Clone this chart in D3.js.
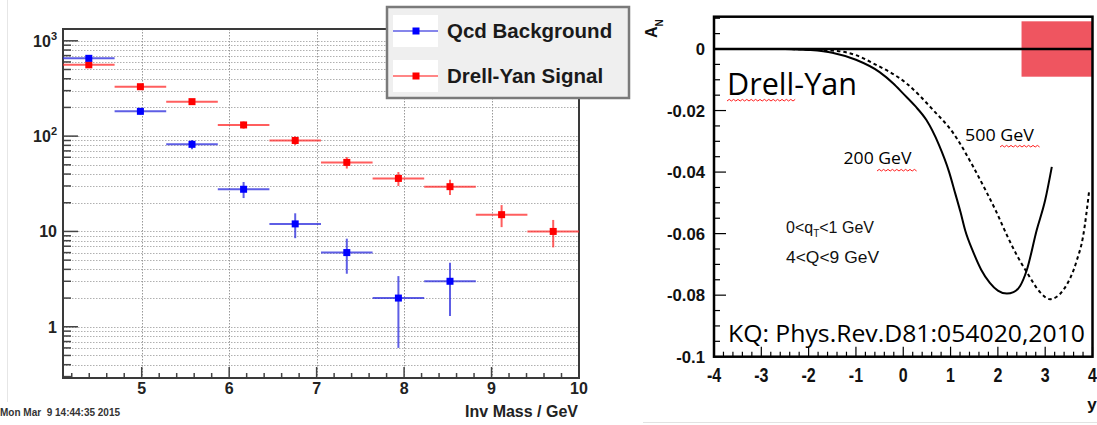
<!DOCTYPE html>
<html>
<head>
<meta charset="utf-8">
<script src="https://cdn.jsdelivr.net/npm/d3@7"></script>
<style>
  html, body { margin: 0; padding: 0; background: #fff; }
  svg { display: block; }
</style>
</head>
<body>
<svg id="chart" width="1097" height="425"></svg>
<script>
// ---------------- DATA: left panel (ROOT histogram) ----------------
const massBinCenters = [4.395, 4.985, 5.575, 6.165, 6.755, 7.345, 7.935, 8.525, 9.115, 9.705];
const massBinHalfWidth = [0.295, 0.295, 0.295, 0.295, 0.295, 0.295, 0.295, 0.295, 0.295, 0.295];
const qcdBackground = [655, 182, 82, 27.7, 12, 6, 2, 3];
const qcdErrors = [25.6, 13.5, 9.1, 5.3, 3.5, 2.4, 1.4, 1.7];
const drellYanSignal = [560, 330, 230, 131, 90, 53, 36, 29.5, 15, 10];
const drellYanErrors = [23.7, 18.2, 15.2, 11.4, 9.5, 7.3, 6.0, 5.4, 3.9, 3.2];
const massTicks = [5, 6, 7, 8, 9, 10];
const countTickValues = [1, 10, 100, 1000];
const countTickLabels = [["1", ""], ["10", ""], ["10", "2"], ["10", "3"]];
const legendLabels = ["Qcd Background", "Drell-Yan Signal"];
const timestampText = "Mon Mar  9 14:44:35 2015";
const massAxisTitle = "Inv Mass / GeV";

// ---------------- DATA: right panel (A_N vs y) ----------------
const rapidity200 = [-2.5, -2.0, -1.5, -1.0, -0.5, -0.21, 0.0, 0.25, 0.49, 0.75, 0.97, 1.1, 1.21, 1.31, 1.48, 1.65, 1.83, 2.0, 2.19, 2.33, 2.47, 2.61, 2.82, 3.0, 3.14];
const asym200 = [0, -0.0003, -0.0012, -0.0035, -0.0075, -0.0112, -0.0145, -0.0185, -0.0231, -0.0310, -0.0400, -0.0470, -0.0530, -0.0590, -0.0660, -0.0718, -0.0760, -0.0785, -0.0795, -0.0790, -0.0770, -0.0719, -0.0589, -0.0491, -0.0383];
const rapidity500 = [-2.5, -1.5, -1.0, -0.63, 0.07, 0.63, 1.06, 1.48, 1.76, 1.97, 2.19, 2.4, 2.61, 2.89, 3.1, 3.38, 3.67, 3.8, 3.93];
const asym500 = [0, -0.0005, -0.0020, -0.0047, -0.0112, -0.0198, -0.0274, -0.0383, -0.0465, -0.0530, -0.0605, -0.0670, -0.0725, -0.0790, -0.0813, -0.0784, -0.0686, -0.0610, -0.0460];
const acceptanceRapidity = [2.5, 4];
const acceptanceAsym = [-0.009, 0.009];
const rapidityTicks = [-4, -3, -2, -1, 0, 1, 2, 3, 4];
const asymTicks = [0, -0.02, -0.04, -0.06, -0.08, -0.1];
const asymTickLabels = ["0", "-0.02", "-0.04", "-0.06", "-0.08", "-0.1"];
const curveLabels = ["200 GeV", "500 GeV"];
const panelTitle = "Drell-Yan";
const citation = "KQ: Phys.Rev.D81:054020,2010";

// ---------------- drawing ----------------
const svg = d3.select("#chart");
const helv = "'Liberation Sans', Arial, Helvetica, sans-serif";
const calib = "'Open Sans', 'Noto Sans', sans-serif";

// faint canvas borders
svg.append("line").attr("x1", 7.5).attr("x2", 7.5).attr("y1", 0).attr("y2", 402)
  .attr("stroke", "#e6e6e6").attr("stroke-width", 1);
svg.append("line").attr("x1", 643).attr("x2", 1097).attr("y1", 422.5).attr("y2", 422.5)
  .attr("stroke", "#e2e2e2").attr("stroke-width", 1);

// ===== LEFT PANEL =====
const L = svg.append("g");
const xL = d3.scaleLinear().domain([4.1, 10]).range([63, 579]);
const yL = d3.scaleLog().domain([0.29, 1330]).range([378, 29]);

const minorVals = [];
for (let e = -1; e <= 3; e++) for (let m = 1; m <= 9; m++) {
  const v = m * Math.pow(10, e);
  if (v >= 0.29 && v <= 1330) minorVals.push(v);
}
L.append("g").selectAll("line").data(minorVals).join("line")
  .attr("x1", xL(4.1)).attr("x2", xL(10))
  .attr("y1", d => Math.round(yL(d)) + 0.5).attr("y2", d => Math.round(yL(d)) + 0.5)
  .attr("stroke", "#b0b0b0").attr("stroke-width", 1).attr("stroke-dasharray", "1.5,1.5");
L.append("g").selectAll("line").data(massTicks.slice(0, -1)).join("line")
  .attr("x1", d => Math.round(xL(d)) + 0.5).attr("x2", d => Math.round(xL(d)) + 0.5)
  .attr("y1", yL(1330)).attr("y2", yL(0.29))
  .attr("stroke", "#999").attr("stroke-width", 1).attr("stroke-dasharray", "1.5,1.5");

L.append("g").selectAll("line").data(minorVals).join("line")
  .attr("x1", xL(4.1)).attr("x2", d => xL(4.1) + (countTickValues.includes(d) ? 15 : 8))
  .attr("y1", d => yL(d)).attr("y2", d => yL(d))
  .attr("stroke", "#444").attr("stroke-width", 1.5);
const xMinor = d3.range(42, 101, 2).map(d => d / 10);
L.append("g").selectAll("line").data(xMinor).join("line")
  .attr("x1", d => xL(d)).attr("x2", d => xL(d))
  .attr("y1", yL(0.29)).attr("y2", d => yL(0.29) - (Math.abs(d - Math.round(d)) < 1e-6 ? 11 : 5))
  .attr("stroke", "#444").attr("stroke-width", 1.5);

L.append("rect").attr("x", xL(4.1)).attr("y", yL(1330))
  .attr("width", xL(10) - xL(4.1)).attr("height", yL(0.29) - yL(1330))
  .attr("fill", "none").attr("stroke", "#3a3a3a").attr("stroke-width", 2);

const yLab = L.append("g").selectAll("text").data(countTickValues).join("text")
  .attr("x", 57).attr("y", d => yL(d) + 6)
  .attr("text-anchor", "end").attr("font-family", helv).attr("font-weight", "bold")
  .attr("font-size", 16).attr("fill", "#222");
yLab.each(function(d, i) {
  const t = d3.select(this);
  const lab = countTickLabels[i];
  t.append("tspan").text(lab[0]);
  if (lab[1]) t.append("tspan").attr("font-size", 11).attr("dy", -7).text(lab[1]);
});
L.append("g").selectAll("text").data(massTicks).join("text")
  .attr("x", d => xL(d)).attr("y", 394)
  .attr("text-anchor", "middle").attr("font-family", helv).attr("font-weight", "bold")
  .attr("font-size", 16).attr("fill", "#222").text(d => d);
L.append("text").attr("x", 578).attr("y", 417).attr("text-anchor", "end")
  .attr("font-family", helv).attr("font-weight", "bold").attr("font-size", 16)
  .attr("fill", "#222").text(massAxisTitle);
L.append("text").attr("x", 0).attr("y", 416).attr("font-family", helv)
  .attr("font-weight", "bold").attr("font-size", 10).attr("fill", "#333")
  .attr("xml:space", "preserve").style("white-space", "pre").text(timestampText);

function drawSeries(vals, errs, color, lineColor) {
  const g = L.append("g");
  const pts = vals.map((v, i) => ({ x: massBinCenters[i], hw: massBinHalfWidth[i], v, e: errs[i] }));
  g.selectAll("line.h").data(pts).join("line").attr("class", "h")
    .attr("x1", d => xL(d.x - d.hw)).attr("x2", d => xL(d.x + d.hw))
    .attr("y1", d => yL(d.v)).attr("y2", d => yL(d.v))
    .attr("stroke", lineColor).attr("stroke-width", 2);
  g.selectAll("line.v").data(pts).join("line").attr("class", "v")
    .attr("x1", d => xL(d.x)).attr("x2", d => xL(d.x))
    .attr("y1", d => yL(d.v + d.e)).attr("y2", d => yL(Math.max(d.v - d.e, 0.3)))
    .attr("stroke", lineColor).attr("stroke-width", 2);
  g.selectAll("rect").data(pts).join("rect")
    .attr("x", d => xL(d.x) - 3.5).attr("y", d => yL(d.v) - 3.5)
    .attr("width", 7).attr("height", 7).attr("fill", color);
}
drawSeries(drellYanSignal, drellYanErrors, "#ff0000", "rgba(255,40,40,0.75)");
drawSeries(qcdBackground, qcdErrors, "#0000ff", "rgba(40,40,220,0.75)");

const leg = svg.append("g");
leg.append("rect").attr("x", 387).attr("y", 7).attr("width", 242).attr("height", 91)
  .attr("fill", "#efefef").attr("stroke", "#7a7a7a").attr("stroke-width", 2.5);
const legColors = [["#0000ff", "rgba(40,40,220,0.75)"], ["#ff0000", "rgba(255,40,40,0.75)"]];
legendLabels.forEach((lab, i) => {
  const cy = 31 + i * 45;
  leg.append("rect").attr("x", 393).attr("y", cy - 16).attr("width", 45).attr("height", 32).attr("fill", "#fff");
  leg.append("line").attr("x1", 393).attr("x2", 438).attr("y1", cy).attr("y2", cy)
    .attr("stroke", legColors[i][1]).attr("stroke-width", 1.5);
  leg.append("rect").attr("x", 416 - 3.5).attr("y", cy - 3.5).attr("width", 7).attr("height", 7)
    .attr("fill", legColors[i][0]);
  leg.append("text").attr("x", 447).attr("y", cy + 6.5).attr("font-family", helv)
    .attr("font-weight", "bold").attr("font-size", 20.5).attr("fill", "#1a1a1a").text(lab);
});

// ===== RIGHT PANEL =====
const R = svg.append("g");
const xR = d3.scaleLinear().domain([-4, 4]).range([714, 1092.5]);
const yR = d3.scaleLinear().domain([-0.1, 0.0105]).range([356.7, 16.7]);

R.append("rect").attr("x", xR(acceptanceRapidity[0])).attr("y", yR(acceptanceAsym[1]))
  .attr("width", xR(acceptanceRapidity[1]) - xR(acceptanceRapidity[0]))
  .attr("height", yR(acceptanceAsym[0]) - yR(acceptanceAsym[1]))
  .attr("fill", "#ef5560");

const lineGen = d3.line().x(d => xR(d[0])).y(d => yR(d[1])).curve(d3.curveMonotoneX);
R.append("path").datum(rapidity200.map((x, i) => [x, asym200[i]]))
  .attr("d", lineGen).attr("fill", "none").attr("stroke", "#000").attr("stroke-width", 2);
R.append("path").datum(rapidity500.map((x, i) => [x, asym500[i]]))
  .attr("d", lineGen).attr("fill", "none").attr("stroke", "#000").attr("stroke-width", 2)
  .attr("stroke-dasharray", "3.5,3");

R.append("line").attr("x1", xR(-4)).attr("x2", xR(4)).attr("y1", yR(0)).attr("y2", yR(0))
  .attr("stroke", "#000").attr("stroke-width", 2.5);

const yRminor = d3.range(-100, 11, 5).map(d => d / 1000);
R.append("g").selectAll("line").data(yRminor).join("line")
  .attr("x1", xR(-4)).attr("x2", d => xR(-4) + (Math.abs(Math.round(d * 50) - d * 50) < 1e-6 ? 12 : 6))
  .attr("y1", d => yR(d)).attr("y2", d => yR(d)).attr("stroke", "#000").attr("stroke-width", 1.2);
const xRminor = d3.range(-40, 41, 2).map(d => d / 10);
R.append("g").selectAll("line").data(xRminor).join("line")
  .attr("x1", d => xR(d)).attr("x2", d => xR(d))
  .attr("y1", yR(-0.1)).attr("y2", d => yR(-0.1) - (Math.abs(d - Math.round(d)) < 1e-6 ? 10 : 5))
  .attr("stroke", "#000").attr("stroke-width", 1.2);

R.append("rect").attr("x", xR(-4)).attr("y", yR(0.0105))
  .attr("width", xR(4) - xR(-4)).attr("height", yR(-0.1) - yR(0.0105))
  .attr("fill", "none").attr("stroke", "#000").attr("stroke-width", 2.5);

R.append("g").selectAll("text").data(asymTicks).join("text")
  .attr("x", 705).attr("y", d => yR(d) + 6).attr("text-anchor", "end")
  .attr("font-family", helv).attr("font-weight", "bold").attr("font-size", 16.7)
  .attr("fill", "#111").text((d, i) => asymTickLabels[i]);
R.append("g").selectAll("text").data(rapidityTicks).join("text")
  .attr("transform", d => `translate(${xR(d)},382) scale(1,1.25)`)
  .attr("text-anchor", "middle")
  .attr("font-family", helv).attr("font-weight", "bold").attr("font-size", 16)
  .attr("fill", "#111").text(d => d);
R.append("text").attr("x", 1092).attr("y", 410).attr("text-anchor", "middle")
  .attr("font-family", helv).attr("font-weight", "bold").attr("font-size", 17)
  .attr("fill", "#111").text("y");
const an = R.append("text").attr("transform", "translate(657,38) rotate(-90)")
  .attr("font-family", helv).attr("font-weight", "bold").attr("font-size", 16).attr("fill", "#111");
an.append("tspan").text("A");
an.append("tspan").attr("font-size", 10).attr("dy", 6).text("N");

function fitText(sel, w) { sel.attr("textLength", w).attr("lengthAdjust", "spacingAndGlyphs"); return sel; }
fitText(R.append("text").attr("x", 727).attr("y", 95).attr("font-family", calib)
  .attr("font-size", 31).attr("fill", "#000").text(panelTitle), 130);
fitText(R.append("text").attr("x", 843.5).attr("y", 164.3).attr("font-family", calib)
  .attr("font-size", 16.5).attr("fill", "#000").text(curveLabels[0]), 68);
fitText(R.append("text").attr("x", 965).attr("y", 140.7).attr("font-family", calib)
  .attr("font-size", 16.5).attr("fill", "#000").text(curveLabels[1]), 69);
fitText(R.append("text").attr("x", 728).attr("y", 341.7).attr("font-family", calib)
  .attr("font-size", 23.4).attr("fill", "#000").text(citation), 357);

const q1 = R.append("text").attr("x", 786).attr("y", 233.3).attr("font-family", helv)
  .attr("font-size", 16).attr("fill", "#111");
q1.append("tspan").text("0<q");
q1.append("tspan").attr("font-size", 10).attr("dy", 4).text("T");
q1.append("tspan").attr("dy", -4).text("<1 GeV");
fitText(R.append("text").attr("x", 786).attr("y", 263.3).attr("font-family", helv)
  .attr("font-size", 16).attr("fill", "#111").text("4<Q<9 GeV"), 93);

function squiggle(x0, x1, y) {
  let d = `M${x0},${y}`;
  let up = true;
  for (let x = x0 + 2.2; x <= x1; x += 2.2) { d += `L${x},${y + (up ? -1.6 : 0)}`; up = !up; }
  R.append("path").attr("d", d).attr("fill", "none").attr("stroke", "#ff2020").attr("stroke-width", 1);
}
squiggle(727, 797, 101);
squiggle(877, 917, 171);
squiggle(1000, 1040, 147);
</script>
</body>
</html>
